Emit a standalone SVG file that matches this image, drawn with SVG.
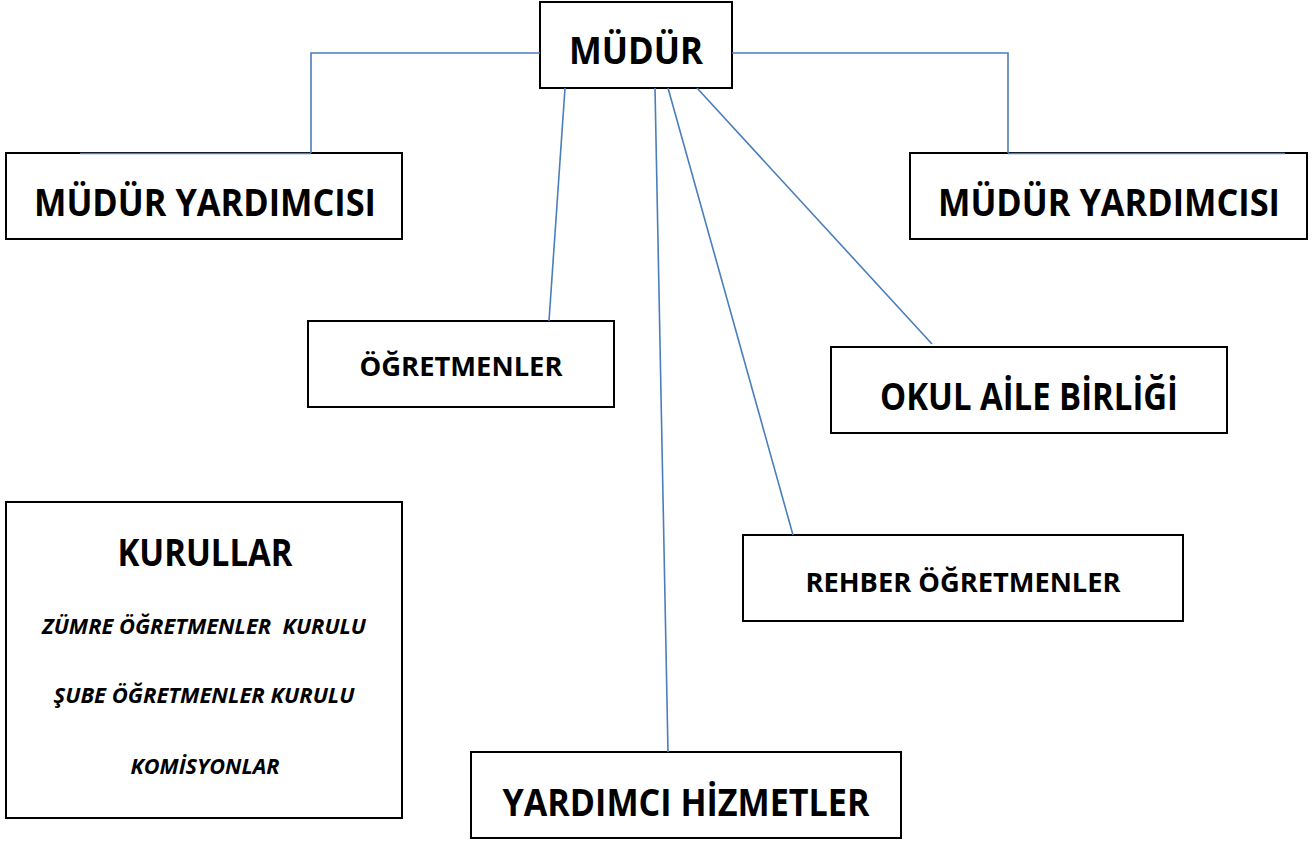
<svg xmlns="http://www.w3.org/2000/svg" width="1315" height="841" viewBox="0 0 1315 841">
<style>
.box{fill:#fff;stroke:#000;stroke-width:2}
.t{font-family:"Open Sans","Noto Sans","Liberation Sans",sans-serif;font-weight:bold;fill:#000;text-anchor:middle}
.i{font-style:italic;white-space:pre}
.c{fill:none;stroke:#4a7ebb;stroke-width:1.6}
</style>
<rect width="1315" height="841" fill="#fff"/>
<g id="n-mudur"><rect class="box" x="540" y="2" width="192" height="86"/><text class="t" x="636" y="64" font-size="37" textLength="134" lengthAdjust="spacingAndGlyphs">MÜDÜR</text></g>
<g id="n-my-left"><rect class="box" x="6" y="153" width="396" height="86"/><text class="t" x="205" y="216" font-size="37" textLength="342" lengthAdjust="spacingAndGlyphs">MÜDÜR YARDIMCISI</text></g>
<g id="n-my-right"><rect class="box" x="910" y="153" width="397" height="86"/><text class="t" x="1109" y="216" font-size="37" textLength="342" lengthAdjust="spacingAndGlyphs">MÜDÜR YARDIMCISI</text></g>
<g id="n-ogretmenler"><rect class="box" x="308" y="321" width="306" height="86"/><text class="t" x="461" y="376" font-size="27" textLength="203" lengthAdjust="spacingAndGlyphs">ÖĞRETMENLER</text></g>
<g id="n-okul"><rect class="box" x="831" y="347" width="396" height="86"/><text class="t" x="1029" y="410" font-size="37" textLength="298" lengthAdjust="spacingAndGlyphs">OKUL AİLE BİRLİĞİ</text></g>
<g id="n-rehber"><rect class="box" x="743" y="535" width="440" height="86"/><text class="t" x="963" y="592" font-size="27" textLength="315" lengthAdjust="spacingAndGlyphs">REHBER ÖĞRETMENLER</text></g>
<g id="n-yardimci"><rect class="box" x="471" y="752" width="430" height="86"/><text class="t" x="686" y="816" font-size="37" textLength="367" lengthAdjust="spacingAndGlyphs">YARDIMCI HİZMETLER</text></g>
<g id="n-kurullar"><rect class="box" x="6" y="502" width="396" height="316"/>
<text class="t" x="205" y="566" font-size="37" textLength="175" lengthAdjust="spacingAndGlyphs">KURULLAR</text>
<text class="t i" x="204" y="634" font-size="22" textLength="324" lengthAdjust="spacingAndGlyphs">ZÜMRE ÖĞRETMENLER  KURULU</text>
<text class="t i" x="204" y="703" font-size="22" textLength="301" lengthAdjust="spacingAndGlyphs">ŞUBE ÖĞRETMENLER KURULU</text>
<text class="t i" x="205" y="774" font-size="22" textLength="149" lengthAdjust="spacingAndGlyphs">KOMİSYONLAR</text>
</g>
<g id="connectors">
<polyline class="c" points="540,53 311,53 311,153"/>
<line class="c" x1="80" y1="153.5" x2="311" y2="153.5" stroke-width="2.2"/>
<polyline class="c" points="732,53 1008,53 1008,153"/>
<line class="c" x1="1008" y1="153.5" x2="1285" y2="153.5" stroke-width="2.2"/>
<line class="c" x1="565" y1="88" x2="549" y2="321"/>
<line class="c" x1="655" y1="88" x2="668" y2="752"/>
<line class="c" x1="668" y1="88" x2="793" y2="535"/>
<line class="c" x1="697" y1="88" x2="932" y2="344"/>
</g>
</svg>
